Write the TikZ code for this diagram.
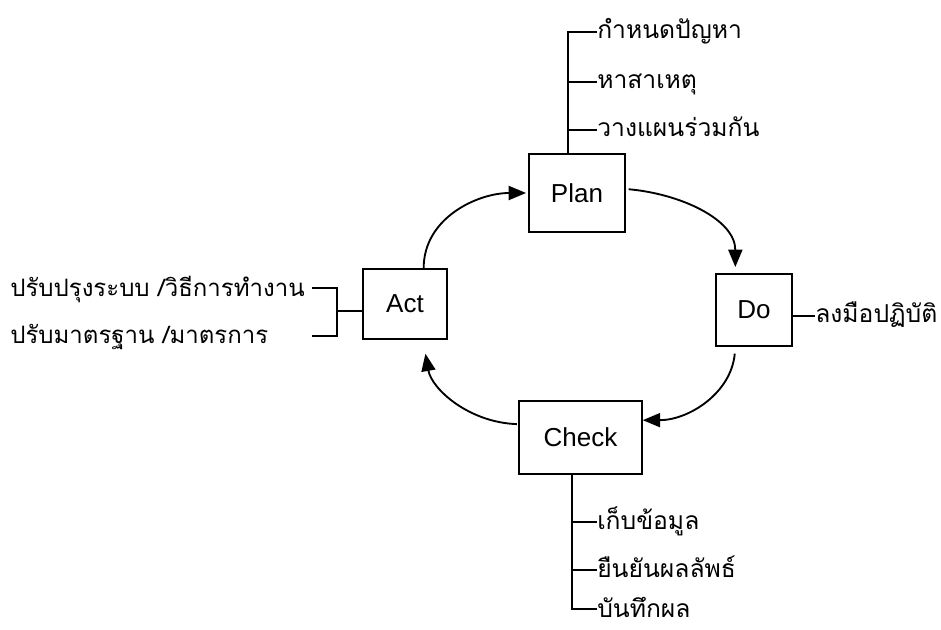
\documentclass[tikz,border=0pt]{standalone}
\usepackage{fontspec}
\setmainfont{Liberation Sans}
\newfontfamily\thaifont[Script=Thai]{Loma}
\usetikzlibrary{arrows.meta}
\tikzset{
  box/.style={draw, line width=1.4pt, inner sep=0pt, font=\fontsize{19.5}{24}\selectfont},
  lbl/.style={inner sep=0pt, anchor=base west, font=\thaifont\fontsize{18.5}{22}\selectfont},
  lnk/.style={line width=1.4pt},
  flow/.style={line width=1.4pt, -{Triangle[length=13pt,width=10.5pt]}},
}
\begin{document}
\begin{tikzpicture}[x=0.75pt,y=-0.75pt]
\useasboundingbox (0,0) rectangle (941,630);
% boxes
\node[box, minimum width=72pt, minimum height=58.5pt] (plan) at (577,193) {Plan};
\node[box, minimum width=57pt, minimum height=54pt] (do) at (754,310) {Do};
\node[box, minimum width=63pt, minimum height=52.5pt] (act) at (405,304) {Act};
\node[box, minimum width=92pt, minimum height=55pt] (check) at (580.5,437.5) {Check};
% Plan labels
\node[lbl] (p1) at (597,39) {กำหนดปัญหา};
\node[lbl] (p2) at (597,89) {หาสาเหตุ};
\node[lbl] (p3) at (597,137) {วางแผนร่วมกัน};
\coordinate (pv) at (568,32);
\draw[lnk] (p1.west |- pv) -- (pv) -- (pv |- plan.north);
\draw[lnk] (p2.base west) ++(0,-7) coordinate (p2t) -- (p2t -| pv);
\draw[lnk] (p3.base west) ++(0,-7) coordinate (p3t) -- (p3t -| pv);
% Do label
\node[lbl] (d1) at (815,323) {ลงมือปฏิบัติ};
\draw[lnk] (d1.base west) ++(0,-7) coordinate (d1t) -- (d1t -| do.east);
% Act labels
\node[lbl, font=\thaifont\fontsize{18}{22}\selectfont] (a1) at (10,297) {ปรับปรุงระบบ /วิธีการทำงาน};
\node[lbl, font=\thaifont\fontsize{18}{22}\selectfont] (a2) at (10,344) {ปรับมาตรฐาน /มาตรการ};
\coordinate (at1) at (312,288);
\coordinate (at2) at (312,336);
\coordinate (av) at (337,311);
\draw[lnk] (at1) -- (at1 -| av) -- (at2 -| av) -- (at2);
\draw[lnk] (av) -- (av -| act.west);
% Check labels
\node[lbl] (c1) at (597,529) {เก็บข้อมูล};
\node[lbl] (c2) at (597,577) {ยืนยันผลลัพธ์};
\node[lbl] (c3) at (597,617) {บันทึกผล};
\coordinate (cv) at (572,609);
\draw[lnk] (cv |- check.south) -- (cv) -- (c3.west |- cv);
\draw[lnk] (c1.base west) ++(0,-7) coordinate (c1t) -- (c1t -| cv);
\draw[lnk] (c2.base west) ++(0,-7) coordinate (c2t) -- (c2t -| cv);
% cycle arrows
\draw[flow, shorten >=1.5pt] ([xshift=14pt]act.north) to[out=90,in=180] (plan.west);
\draw[flow, shorten <=2pt, shorten >=4.5pt] ([yshift=3pt]plan.east) to[out=-5,in=90] ([xshift=-14pt]do.north);
\draw[flow, shorten <=5pt, shorten >=0pt] ([xshift=-14pt]do.south) to[out=-95,in=0] ([yshift=13pt]check.east);
\draw[flow, shorten <=1pt, shorten >=10.5pt] ([yshift=10pt]check.west) to[out=178,in=-80] ([xshift=13.5pt]act.south);
\end{tikzpicture}
\end{document}
